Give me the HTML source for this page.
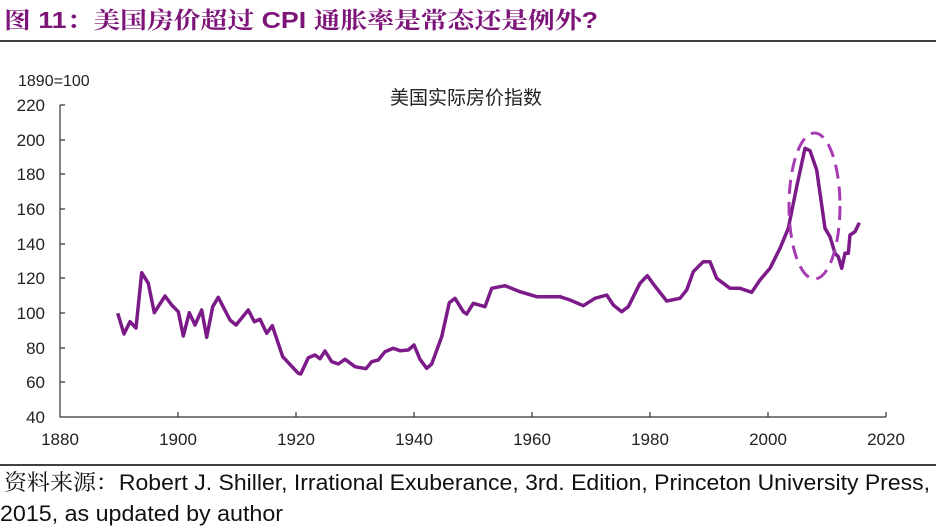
<!DOCTYPE html>
<html><head><meta charset="utf-8"><style>
body{margin:0;width:936px;height:530px;background:#fff;overflow:hidden;font-family:"Liberation Sans","Noto Sans CJK SC",sans-serif}
</style></head><body>
<svg width="936" height="530" xmlns="http://www.w3.org/2000/svg" style="position:absolute;left:0;top:0">
<text x="4" y="28" font-size="23" font-weight="bold" fill="#7d1479" font-family="Liberation Sans,Noto Serif CJK SC,serif" textLength="594" lengthAdjust="spacingAndGlyphs">图 11：美国房价超过 CPI 通胀率是常态还是例外?</text>
<line x1="0" y1="41" x2="936" y2="41" stroke="#000" stroke-width="1.5"/>
<text x="18" y="86" font-size="16" fill="#222">1890=100</text>
<text x="466" y="104" font-size="19" fill="#222" text-anchor="middle" font-family="Noto Sans CJK SC,sans-serif">美国实际房价指数</text>
<g font-size="17" fill="#222" text-anchor="end">
<text x="45" y="111">220</text><text x="45" y="146">200</text><text x="45" y="180">180</text><text x="45" y="215">160</text><text x="45" y="250">140</text><text x="45" y="284">120</text><text x="45" y="319">100</text><text x="45" y="354">80</text><text x="45" y="388">60</text><text x="45" y="423">40</text>
</g>
<g font-size="17" fill="#222" text-anchor="middle">
<text x="60" y="445">1880</text><text x="178" y="445">1900</text><text x="296" y="445">1920</text><text x="414" y="445">1940</text><text x="532" y="445">1960</text><text x="650" y="445">1980</text><text x="768" y="445">2000</text><text x="886" y="445">2020</text>
</g>
<g stroke="#333" stroke-width="1.2" fill="none">
<path d="M60 105V417H886"/>
<path d="M60 105h5M60 140h5M60 174h5M60 209h5M60 244h5M60 278h5M60 313h5M60 348h5M60 382h5"/>
<path d="M178 417v-5M296 417v-5M414 417v-5M532 417v-5M650 417v-5M768 417v-5M886 417v-5"/>
</g>
<polyline fill="none" stroke="#7b1a88" stroke-width="3.5" stroke-linejoin="round" points="117.7,313.3 124,334 130,321.7 136,328 141.7,272.7 148.3,283.3 154.3,312.7 165,296 171.7,305 178.3,311.7 183.3,336 189.3,312.7 195,325 201.7,310 206.7,337.3 212.7,306.7 218.3,297.3 230,320 236,325 248.3,310 254.3,321.7 260,319.3 266.7,333.3 272.3,325.7 282.7,356.7 298.3,373.3 300.7,374 308.3,357.7 315,355 320,358.7 325,351 331.7,361.7 338.3,364 345,359.3 355,366.7 366,368.7 371.7,361.7 378.3,360 385,351.7 393.3,348.3 400,350.7 408.3,350 414,345 420,359.3 426.7,368.3 431.7,364 441.7,336.7 449.3,302.7 455,298.3 463.3,311.7 466.7,314 473.3,303.3 485,306.7 491.7,288.3 505,285.7 520,291.7 536.7,296.7 560,296.7 570,300 583.3,305.7 595,298.3 606.7,295 613.3,305 621.7,311.7 628.3,306.7 640,283.3 647.3,275.7 653.3,284 666.7,301 680,298.3 686.7,290 693.3,271.7 703.3,261.7 710,261.7 716.7,278.3 730,288.3 740,288.3 751.7,292.3 760,280 770,268.3 780,248.3 788.3,228.3 796.7,186.7 805,148.3 810,150.7 816.7,170 825,228.3 830,236.7 835,253.3 838.3,256.7 841.7,268.3 845,253.3 848.3,253.3 850,235 855,231.7 859.3,222.7"/>
<ellipse cx="814.5" cy="206" rx="25.5" ry="73" fill="none" stroke="#a53ab3" stroke-width="3" stroke-dasharray="14,8"/>
<line x1="0" y1="465" x2="936" y2="465" stroke="#000" stroke-width="1.5"/>
<text x="4" y="490" font-size="22" fill="#111" textLength="926" lengthAdjust="spacingAndGlyphs"><tspan font-family="Noto Serif CJK SC,serif">资料来源：</tspan>Robert J. Shiller, Irrational Exuberance, 3rd. Edition, Princeton University Press,</text>
<text x="0" y="521" font-size="22" fill="#111" textLength="283" lengthAdjust="spacingAndGlyphs">2015, as updated by author</text>
</svg>
</body></html>
